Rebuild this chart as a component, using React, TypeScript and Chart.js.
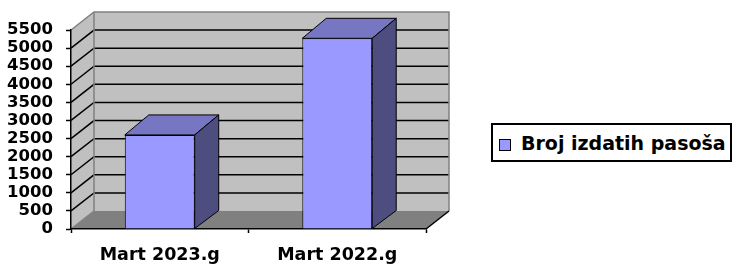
import React, { useEffect, useRef } from "react";
import { Chart, registerables } from "chart.js";

Chart.register(...registerables);

const categories: string[] = ["Mart 2023.g", "Mart 2022.g"];
const seriesLabel = "Broj izdatih pasoša";
const seriesValues: number[] = [2600, 5270];
const yMin = 0;
const yMax = 5500;
const yStep = 500;

const FONT = "'DejaVu Sans', 'Liberation Sans', Arial, sans-serif";
const WALL_DX = 23;
const WALL_DY = -18;
const BAR_DX = 24;
const BAR_DY_TOP = -20;
const BAR_DY_BOTTOM = -18;

const threeD = {
  id: "threeD",
  beforeDraw(chart: any) {
    const { ctx, chartArea } = chart;
    const ys = chart.scales.y;
    const { left, right, top, bottom } = chartArea;
    const dx = WALL_DX;
    const dy = WALL_DY;
    ctx.save();
    ctx.lineJoin = "miter";
    // side wall
    ctx.fillStyle = "#C0C0C0";
    ctx.beginPath();
    ctx.moveTo(left, top);
    ctx.lineTo(left + dx, top + dy);
    ctx.lineTo(left + dx, bottom + dy);
    ctx.lineTo(left, bottom);
    ctx.closePath();
    ctx.fill();
    // back wall
    ctx.fillRect(left + dx, top + dy, right - left, bottom - top);
    // floor
    ctx.fillStyle = "#808080";
    ctx.beginPath();
    ctx.moveTo(left, bottom);
    ctx.lineTo(right, bottom);
    ctx.lineTo(right + dx, bottom + dy);
    ctx.lineTo(left + dx, bottom + dy);
    ctx.closePath();
    ctx.fill();
    // gridlines
    ctx.lineWidth = 1.5;
    for (let v = yMin + yStep; v < yMax; v += yStep) {
      const y = ys.getPixelForValue(v);
      ctx.strokeStyle = "#000";
      ctx.beginPath();
      ctx.moveTo(left, y);
      ctx.lineTo(left + dx, y + dy);
      ctx.lineTo(right + dx, y + dy);
      ctx.stroke();
    }
    // gray borders
    ctx.strokeStyle = "#808080";
    ctx.lineWidth = 1.5;
    ctx.beginPath();
    ctx.moveTo(left, top);
    ctx.lineTo(left + dx, top + dy);
    ctx.lineTo(right + dx, top + dy);
    ctx.lineTo(right + dx, bottom + dy);
    ctx.moveTo(left + dx, top + dy);
    ctx.lineTo(left + dx, bottom + dy);
    ctx.moveTo(left, bottom);
    ctx.lineTo(left + dx, bottom + dy);
    ctx.stroke();
    // floor right edge
    ctx.strokeStyle = "#000";
    ctx.lineWidth = 1.5;
    ctx.beginPath();
    ctx.moveTo(right, bottom);
    ctx.lineTo(right + dx, bottom + dy);
    ctx.stroke();
    ctx.restore();
  },
  afterDatasetsDraw(chart: any) {
    const { ctx } = chart;
    const meta = chart.getDatasetMeta(0);
    ctx.save();
    ctx.strokeStyle = "#000";
    ctx.lineWidth = 1;
    ctx.lineJoin = "miter";
    meta.data.forEach((bar: any) => {
      const { x, y, base, width } = bar.getProps(["x", "y", "base", "width"], true);
      const l = x - width / 2;
      const r = x + width / 2;
      // top face
      ctx.fillStyle = "#7676C2";
      ctx.beginPath();
      ctx.moveTo(l, y);
      ctx.lineTo(r, y);
      ctx.lineTo(r + BAR_DX, y + BAR_DY_TOP);
      ctx.lineTo(l + BAR_DX, y + BAR_DY_TOP);
      ctx.closePath();
      ctx.fill();
      ctx.stroke();
      // side face
      ctx.fillStyle = "#4D4D7F";
      ctx.beginPath();
      ctx.moveTo(r, y);
      ctx.lineTo(r + BAR_DX, y + BAR_DY_TOP);
      ctx.lineTo(r + BAR_DX, base + BAR_DY_BOTTOM);
      ctx.lineTo(r, base);
      ctx.closePath();
      ctx.fill();
      ctx.stroke();
    });
    ctx.restore();
  },
};

export default function App() {
  const canvasRef = useRef<HTMLCanvasElement | null>(null);

  useEffect(() => {
    const canvas = canvasRef.current;
    if (!canvas) return;
    const chart = new Chart(canvas, {
      type: "bar",
      data: {
        labels: categories,
        datasets: [
          {
            label: seriesLabel,
            data: seriesValues,
            backgroundColor: "#9999FF",
            borderColor: "#000",
            borderWidth: 1,
            categoryPercentage: 1,
            barPercentage: 0.394,
          },
        ],
      },
      options: {
        responsive: false,
        animation: false,
        devicePixelRatio: 1,
        layout: { padding: { top: 30, right: 307, left: 0, bottom: 0 } },
        plugins: {
          legend: { display: false },
          tooltip: { enabled: false },
          title: { display: false },
        },
        scales: {
          x: {
            grid: {
              display: true,
              drawOnChartArea: false,
              drawTicks: true,
              tickLength: 4,
              tickColor: "#000",
              tickWidth: 1.5,
            },
            border: { display: true, color: "#000", width: 1.5 },
            ticks: {
              color: "#000",
              padding: 11.5,
              font: { family: FONT, weight: "bold", size: 17.5 },
              maxRotation: 0,
            },
            afterFit: (s: any) => {
              s.height = 37;
            },
          },
          y: {
            min: yMin,
            max: yMax,
            grid: {
              display: true,
              drawOnChartArea: false,
              drawTicks: true,
              tickLength: 5,
              tickColor: "#000",
              tickWidth: 1.5,
            },
            border: { display: true, color: "#000", width: 1.5 },
            ticks: {
              stepSize: yStep,
              color: "#000",
              padding: 13,
              autoSkip: false,
              font: { family: FONT, weight: "bold", size: 16.5 },
              callback: (v: any) => String(v),
            },
            afterFit: (s: any) => {
              s.width = 71;
            },
          },
        },
      },
      plugins: [threeD],
    });
    return () => chart.destroy();
  }, []);

  return (
    <div style={{ position: "fixed", left: 0, top: 0, width: 733, height: 266, background: "#fff" }}>
      <canvas ref={canvasRef} width={733} height={266} style={{ width: 733, height: 266, display: "block" }} />
      <div
        style={{
          position: "absolute",
          left: 491,
          top: 123,
          width: 241,
          height: 39,
          boxSizing: "border-box",
          border: "2px solid #000",
          background: "#fff",
        }}
      >
        <span
          style={{
            position: "absolute",
            left: 6,
            top: 14,
            width: 12,
            height: 12,
            boxSizing: "border-box",
            background: "#9999FF",
            border: "1px solid #000",
          }}
        />
        <span
          style={{
            position: "absolute",
            left: 28,
            top: 7,
            fontFamily: FONT,
            fontWeight: "bold",
            fontSize: 19,
            lineHeight: "22px",
            whiteSpace: "nowrap",
            color: "#000",
          }}
        >
          {seriesLabel}
        </span>
      </div>
    </div>
  );
}
